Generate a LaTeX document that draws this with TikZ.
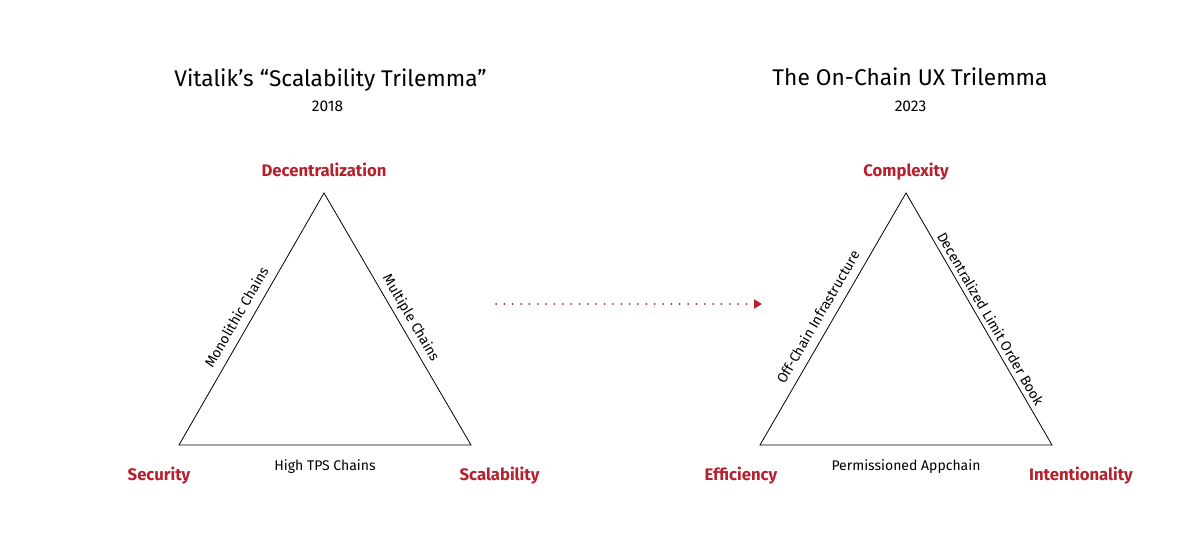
\documentclass[tikz,border=0pt]{standalone}
\usepackage{fontspec}
\setmainfont{Fira Sans}
\usetikzlibrary{positioning, arrows.meta}
\definecolor{trired}{HTML}{B5212E}

\begin{document}
\begin{tikzpicture}[x=1pt, y=1pt, node distance=2pt, every node/.style={font=\fontsize{14}{16}\selectfont}]
	\useasboundingbox[fill=white] (0,0) rectangle (1200,544);
	% titles
	\node[anchor=base, font=\fontsize{22.7}{26}\selectfont] (titleA) at (330.5,457.5) {Vitalik’s “Scalability Trilemma”};
	\node[anchor=base, font=\fontsize{15.5}{18}\selectfont] (yearA) at (327.5,432) {2018};
	\node[anchor=base, font=\fontsize{22.7}{26}\selectfont] (titleB) at (910,458) {The On-Chain UX Trilemma};
	\node[anchor=base, font=\fontsize{15.5}{18}\selectfont] (yearB) at (910.5,432.3) {2023};
	% left triangle
	\coordinate (topA) at (324,351);
	\coordinate (secA) at (179,99);
	\coordinate (scaA) at (471,99);
	\draw[line width=0.8pt] (secA) -- node[sloped, pos=0.48, above=5pt] (monoA) {Monolithic Chains} (topA) -- node[sloped, pos=0.52, above=1pt] (multiA) {Multiple Chains} (scaA) -- cycle;
	\node[anchor=base, inner sep=0pt] (tpsA) at (325,74) {High TPS Chains};
	\node[anchor=base, font=\bfseries\fontsize{16.7}{20}\selectfont, text=trired] (decA) at (324,367.5) {Decentralization};
	\node[anchor=base, font=\bfseries\fontsize{16.7}{20}\selectfont, text=trired] (secLbl) at (159,64) {Security};
	\node[anchor=base, font=\bfseries\fontsize{16.7}{20}\selectfont, text=trired] (scaLbl) at (499.5,64) {Scalability};
	% right triangle
	\coordinate (topB) at (906,351);
	\coordinate (effB) at (760,99);
	\coordinate (intB) at (1052,99);
	\draw[line width=0.8pt] (effB) -- node[sloped, pos=0.48, above=5pt] (offB) {Off-Chain Infrastructure} (topB) -- node[sloped, pos=0.52, above=1pt] (clobB) {Decentralized Limit Order Book} (intB) -- cycle;
	\node[anchor=base, inner sep=0pt] (appB) at (906,73.5) {Permissioned Appchain};
	\node[anchor=base, font=\bfseries\fontsize{16.7}{20}\selectfont, text=trired] (cpxLbl) at (906,367.5) {Complexity};
	\node[anchor=base, font=\bfseries\fontsize{16.7}{20}\selectfont, text=trired] (effLbl) at (741,64) {Efficiency};
	\node[anchor=base, font=\bfseries\fontsize{16.7}{20}\selectfont, text=trired] (intLbl) at (1081,64) {Intentionality};
	% arrow
	\coordinate (arrS) at (496,240);
	\coordinate (arrE) at (762,240);
	\draw[trired, line width=2pt, dash pattern=on 0pt off 8.35pt, line cap=round, -{Triangle[length=8pt, width=9pt]}] (arrS) -- (arrE);
\end{tikzpicture}
\end{document}
